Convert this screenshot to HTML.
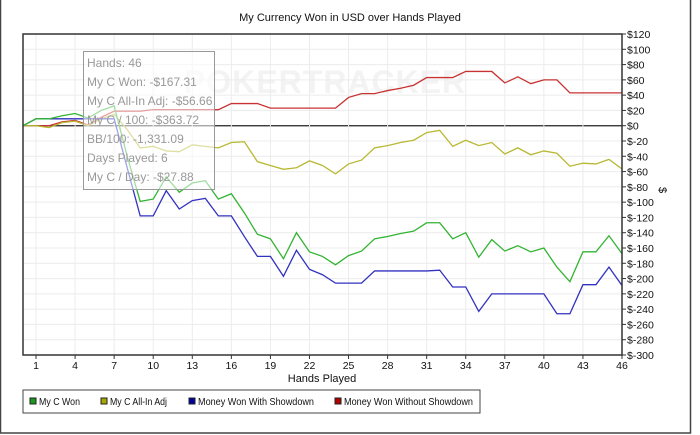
<!DOCTYPE html>
<html><head><meta charset="utf-8"><style>
html,body{margin:0;padding:0;background:#fff;}
svg{display:block;font-family:"Liberation Sans",sans-serif;}
</style></head><body>
<svg id="chart" width="700" height="435">
<rect x="0.5" y="-1" width="690" height="434" fill="#fff" stroke="#444" stroke-width="1.5"/>
<text x="350" y="21" text-anchor="middle" font-size="11" fill="#111">My Currency Won in USD over Hands Played</text>
<text x="325" y="93" text-anchor="middle" font-size="32" font-weight="bold" fill="#f3f3f3" letter-spacing="1">POKERTRACKER</text>
<g id="grid"></g>
<g id="series"></g>
<rect x="23" y="34" width="599" height="321" fill="none" stroke="#333" stroke-width="1.5"/>
<g id="axes"></g>
<text x="322" y="382" text-anchor="middle" font-size="11" fill="#111">Hands Played</text>
<text transform="translate(659,190) rotate(90)" text-anchor="middle" font-size="11" fill="#111">$</text>
<g>
<rect x="83.5" y="51.5" width="131" height="138" fill="rgba(255,255,255,0.55)" stroke="#999"/>
<g font-size="12" fill="#999">
<text x="87" y="67">Hands: 46</text>
<text x="87" y="86">My C Won: -$167.31</text>
<text x="87" y="105">My C All-In Adj: -$56.66</text>
<text x="87" y="124">My C / 100: -$363.72</text>
<text x="87" y="143">BB/100: -1,331.09</text>
<text x="87" y="162">Days Played: 6</text>
<text x="87" y="181">My C / Day: -$27.88</text>
</g></g>
<g>
<rect x="23" y="390" width="457" height="23" fill="#fff" stroke="#444"/>
<g font-size="10.5" fill="#111">
<rect x="30" y="398" width="6" height="6" fill="#1a9a1a" stroke="#222"/>
<text x="39" y="405" textLength="41" lengthAdjust="spacingAndGlyphs">My C Won</text>
<rect x="101" y="398" width="6" height="6" fill="#a8a800" stroke="#222"/>
<text x="110" y="405" textLength="57" lengthAdjust="spacingAndGlyphs">My C All-In Adj</text>
<rect x="189" y="398" width="6" height="6" fill="#0000a0" stroke="#222"/>
<text x="198" y="405" textLength="116" lengthAdjust="spacingAndGlyphs">Money Won With Showdown</text>
<rect x="335" y="398" width="6" height="6" fill="#b00000" stroke="#222"/>
<text x="344" y="405" textLength="129" lengthAdjust="spacingAndGlyphs">Money Won Without Showdown</text>
</g></g>
</svg>
<script>
const hands=[];for(let i=0;i<=46;i++)hands.push(i);
const xTicks=[1,4,7,10,13,16,19,22,25,28,31,34,37,40,43,46];
const yTicks=[120,100,80,60,40,20,0,-20,-40,-60,-80,-100,-120,-140,-160,-180,-200,-220,-240,-260,-280,-300];
const wonValues=[0,9,9,13,16,10,20,26,-40,-99,-96,-67,-87,-75,-72,-96,-89,-114,-142,-148,-174,-140,-165,-171,-182,-170,-164,-148,-145,-141,-138,-127,-127,-148,-140,-172,-149,-164,-157,-165,-160,-185,-204,-165,-165,-144,-167.31];
const allInValues=[0,0,-2.5,4,6,0,9,15,-5,-29,-27,-33,-34,-25,-27,-29,-22,-21,-47,-52,-57,-55,-46,-52,-63,-50,-45,-29,-26,-22,-19,-9,-6,-27,-19,-26,-22,-37,-29,-38,-33,-36,-53,-49,-50,-44,-56.66];
const showdownValues=[0,9,9,9,9,9,9,9,-55,-118,-118,-85,-109,-98,-95,-118,-118,-145,-171,-171,-197,-163,-188,-195,-206,-206,-206,-190,-190,-190,-190,-190,-189,-211,-211,-243,-220,-220,-220,-220,-220,-246,-246,-208,-208,-185,-209];
const noShowdownValues=[0,0,0,5,7,1,11,19,19,19,21,21,21,21,21,21,29,29,29,23,23,23,23,23,23,37,42,42,46,49,53,63,63,63,71,71,71,56,64,55,60,60,43,43,43,43,43];
const NS='http://www.w3.org/2000/svg';
const X0=23,X1=622,Y0=34,Y1=355;
const xs=h=>X0+(h-0)*(X1-X0)/46;
const ys=v=>Y0+(120-v)*(Y1-Y0)/420;
function mk(tag,attrs,parent){const e=document.createElementNS(NS,tag);for(const k in attrs)e.setAttribute(k,attrs[k]);parent.appendChild(e);return e;}
const grid=document.getElementById('grid'),axes=document.getElementById('axes'),series=document.getElementById('series');
yTicks.forEach(v=>{
 const l=mk('line',{x1:X0,x2:X1,y1:ys(v),y2:ys(v),stroke:v===0?'#222':'#ececec','stroke-width':v===0?1.2:1},grid);
 
 
 const t=mk('line',{x1:X1,x2:X1+4,y1:ys(v),y2:ys(v),stroke:'#333'},axes);
 
 
 const tx=mk('text',{x:X1+5,y:ys(v)+4,'font-size':10.5,fill:'#111'},axes);
 tx.textContent=v<0?'$-'+Math.abs(v):'$'+v;
 
 
});
xTicks.forEach(h=>{
 const l=mk('line',{x1:xs(h),x2:xs(h),y1:Y0,y2:Y1,stroke:'#ececec'},grid);
 
 
 const t=mk('line',{x1:xs(h),x2:xs(h),y1:Y1,y2:Y1+4,stroke:'#333'},axes);
 
 
 const tx=mk('text',{x:xs(h),y:Y1+14,'font-size':10.5,fill:'#111','text-anchor':'middle'},axes);
 tx.textContent=h;
 
 
});
function line(vals,color,name){
 const p=mk('polyline',{points:vals.map((v,i)=>xs(hands[i])+','+ys(v)).join(' '),fill:'none',stroke:color,'stroke-width':1.3},series);
 
 
}
line(noShowdownValues,'#c83232','series-without-showdown');
line(allInValues,'#b8b832','series-all-in-adj');
line(showdownValues,'#3232c0','series-with-showdown');
line(wonValues,'#32b432','series-my-c-won');
</script>
</body></html>
